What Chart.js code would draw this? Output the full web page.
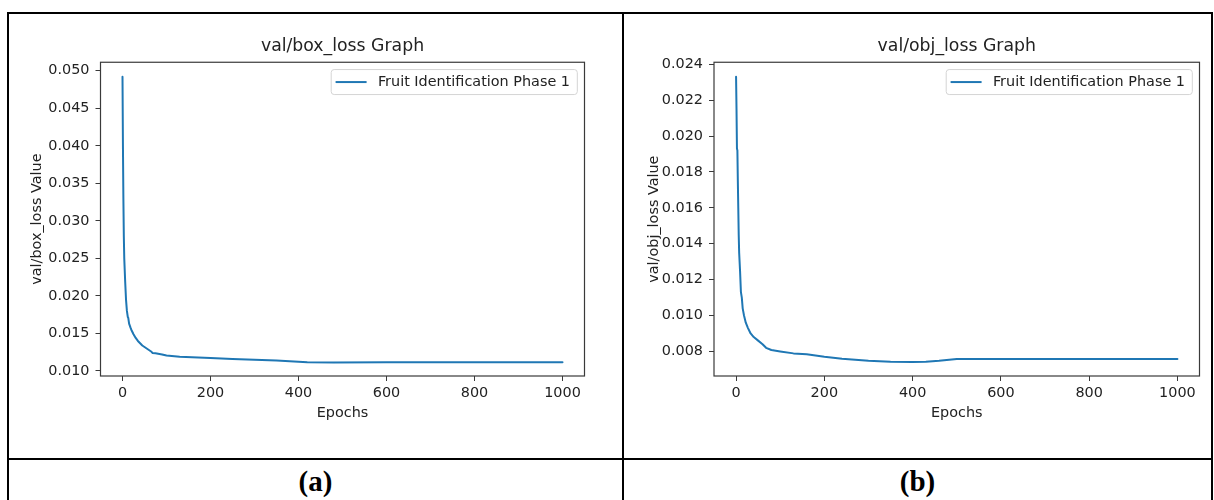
<!DOCTYPE html>
<html>
<head>
<meta charset="utf-8">
<script src="https://cdn.jsdelivr.net/npm/chart.js@4.4.1/dist/chart.umd.min.js"></script>
<style>
  html, body { margin: 0; padding: 0; background: #fff; }
  #wrap { position: relative; width: 1214px; height: 500px; overflow: hidden; background: #fff; }
  canvas { position: absolute; }
  .bl { position: absolute; background: #000; z-index: 5; }
  .cap { position: absolute; font-family: "Liberation Serif", "Times New Roman", serif; font-weight: bold;
         font-size: 29px; color: #000; text-align: center; line-height: 32px; }
</style>
</head>
<body>
<div id="wrap">
  <canvas id="chartA" width="620" height="458" style="left:0px;top:0px;"></canvas>
  <canvas id="chartB" width="590" height="458" style="left:624px;top:0px;"></canvas>
  <div class="bl" style="left:7px;top:12px;width:2px;height:488px;"></div>
  <div class="bl" style="left:7px;top:12px;width:1206px;height:2px;"></div>
  <div class="bl" style="left:622px;top:12px;width:2px;height:488px;"></div>
  <div class="bl" style="left:1211px;top:12px;width:2px;height:488px;"></div>
  <div class="bl" style="left:7px;top:458px;width:1206px;height:2px;"></div>
  <div class="cap" style="left:9px;width:613px;top:465px;">(a)</div>
  <div class="cap" style="left:624px;width:587px;top:465px;">(b)</div>
</div>
<script>
// ---- data ----
const seriesLabel = "Fruit Identification Phase 1";
const titleA = "val/box_loss Graph";
const titleB = "val/obj_loss Graph";
const yLabelA = "val/box_loss Value";
const yLabelB = "val/obj_loss Value";
const xLabel = "Epochs";

const xTicks = [0, 200, 400, 600, 800, 1000];
const yTicksA = [0.010, 0.015, 0.020, 0.025, 0.030, 0.035, 0.040, 0.045, 0.050];
const yTicksB = [0.008, 0.010, 0.012, 0.014, 0.016, 0.018, 0.020, 0.022, 0.024];

const epochsA = [0, 1, 2, 3, 4, 5, 6, 8, 10, 12, 13, 15, 18, 20, 25, 30, 35, 40, 45, 50, 55, 60, 65, 68, 75, 90, 100, 130, 200, 250, 300, 350, 400, 420, 480, 600, 800, 1000];
const boxLoss = [0.0492, 0.0400, 0.0330, 0.0280, 0.0250, 0.0235, 0.0220, 0.0195, 0.0180, 0.0172, 0.0171, 0.0163, 0.0158, 0.0155, 0.0149, 0.0144, 0.0140, 0.0137, 0.0134, 0.0132, 0.0130, 0.0128, 0.0126, 0.0124, 0.01235, 0.0122, 0.01205, 0.0119, 0.01172, 0.0116, 0.01148, 0.01138, 0.01124, 0.01117, 0.01114, 0.01115, 0.01115, 0.01115];

const epochsB = [0, 1, 2, 3, 4, 5, 6, 7, 9, 11, 13, 15, 18, 22, 27, 33, 40, 50, 60, 68, 80, 100, 130, 160, 200, 240, 300, 350, 400, 430, 460, 500, 600, 800, 1000];
const objLoss = [0.0233, 0.0215, 0.0193, 0.0192, 0.0175, 0.0160, 0.0145, 0.0135, 0.0125, 0.0113, 0.0110, 0.0104, 0.0100, 0.0096, 0.0093, 0.0090, 0.0088, 0.0086, 0.0084, 0.0082, 0.00808, 0.00800, 0.00789, 0.00784, 0.00770, 0.00759, 0.00748, 0.00743, 0.00741, 0.00743, 0.00748, 0.00758, 0.00758, 0.00758, 0.00758];

// ---- helpers ----
const FONT = '"DejaVu Sans", sans-serif';
const FS = 14.4;
const TXT = '#222';
const AXC = '#3a3a3a';
const LINEC = '#1f77b4';

const frameAndLegend = {
  id: 'frameAndLegend',
  afterDatasetsDraw(chart) {
    const { ctx, chartArea: ca } = chart;
    ctx.save();
    // spines
    ctx.strokeStyle = AXC;
    ctx.lineWidth = 1.2;
    ctx.strokeRect(ca.left, ca.top, ca.right - ca.left, ca.bottom - ca.top);
    // legend inside plot (upper right)
    const ds = chart.data.datasets[0];
    ctx.font = FS + 'px ' + FONT;
    const tw = ctx.measureText(ds.label).width;
    const w = tw + 54, h = 25;
    const x = ca.right - 7.2 - w, y = ca.top + 7.3;
    const r = 3;
    ctx.beginPath();
    ctx.moveTo(x + r, y);
    ctx.lineTo(x + w - r, y);
    ctx.arcTo(x + w, y, x + w, y + r, r);
    ctx.lineTo(x + w, y + h - r);
    ctx.arcTo(x + w, y + h, x + w - r, y + h, r);
    ctx.lineTo(x + r, y + h);
    ctx.arcTo(x, y + h, x, y + h - r, r);
    ctx.lineTo(x, y + r);
    ctx.arcTo(x, y, x + r, y, r);
    ctx.closePath();
    ctx.fillStyle = 'rgba(255,255,255,0.8)';
    ctx.fill();
    ctx.strokeStyle = '#d4d4d4';
    ctx.lineWidth = 1;
    ctx.stroke();
    ctx.beginPath();
    ctx.moveTo(x + 4.4, y + h / 2);
    ctx.lineTo(x + 35.4, y + h / 2);
    ctx.strokeStyle = ds.borderColor;
    ctx.lineWidth = 2;
    ctx.stroke();
    ctx.fillStyle = TXT;
    ctx.textBaseline = 'middle';
    ctx.textAlign = 'left';
    ctx.fillText(ds.label, x + 46.7, y + h / 2 + 0.5);
    ctx.restore();
  }
};

function makeChart(id, epochs, values, yTicks, title, yLabel, cfg) {
  const pts = epochs.map((e, i) => ({ x: e, y: values[i] }));
  return new Chart(document.getElementById(id), {
    type: 'line',
    data: {
      datasets: [{
        label: seriesLabel,
        data: pts,
        borderColor: LINEC,
        backgroundColor: LINEC,
        borderWidth: 2,
        borderJoinStyle: 'round',
        borderCapStyle: 'round',
        borderDash: [4000, 0.001],
        pointRadius: 0,
        tension: 0,
        fill: false
      }]
    },
    options: {
      responsive: false,
      animation: false,
      events: [],
      layout: { padding: { left: cfg.padLeft, right: cfg.padRight, top: 0, bottom: 34 } },
      plugins: {
        legend: { display: false },
        tooltip: { enabled: false },
        title: {
          display: true,
          text: title,
          fullSize: false,
          color: TXT,
          font: { family: FONT, size: 17.3, weight: 'normal' },
          padding: { top: 36.5, bottom: 5 }
        }
      },
      scales: {
        x: {
          type: 'linear',
          min: -50,
          max: 1050,
          afterBuildTicks: s => { s.ticks = xTicks.map(v => ({ value: v })); },
          afterFit: s => { s.height = 48; },
          border: { display: false },
          grid: { display: true, drawOnChartArea: false, drawTicks: true, tickLength: 5, tickColor: AXC, tickWidth: 1 },
          ticks: { color: TXT, font: { family: FONT, size: FS }, padding: 3.4, maxRotation: 0, autoSkip: false,
                   callback: v => String(v) },
          title: { display: true, text: xLabel, color: TXT, font: { family: FONT, size: FS }, padding: { top: 0, bottom: 2.4 } }
        },
        y: {
          type: 'linear',
          min: cfg.yMin,
          max: cfg.yMax,
          afterBuildTicks: s => { s.ticks = yTicks.map(v => ({ value: v })); },
          afterFit: s => { s.width = cfg.yWidth; },
          border: { display: false },
          grid: { display: true, drawOnChartArea: false, drawTicks: true, tickLength: 5, tickColor: AXC, tickWidth: 1 },
          ticks: { color: TXT, font: { family: FONT, size: FS }, padding: 6, autoSkip: false,
                   callback: v => Number(v).toFixed(3) },
          title: { display: true, text: yLabel, color: TXT, font: { family: FONT, size: FS }, padding: { top: cfg.yTitlePad, bottom: 0 } }
        }
      }
    },
    plugins: [frameAndLegend]
  });
}

makeChart('chartA', epochsA, boxLoss, yTicksA, titleA, yLabelA,
  { padLeft: 10, padRight: 35.5, yWidth: 90.5, yMin: 0.00933, yMax: 0.05113, yTitlePad: 18.4 });
makeChart('chartB', epochsB, objLoss, yTicksB, titleB, yLabelB,
  { padLeft: 4, padRight: 14.5, yWidth: 86, yMin: 0.00663, yMax: 0.02411, yTitlePad: 17.4 });
</script>
</body>
</html>
